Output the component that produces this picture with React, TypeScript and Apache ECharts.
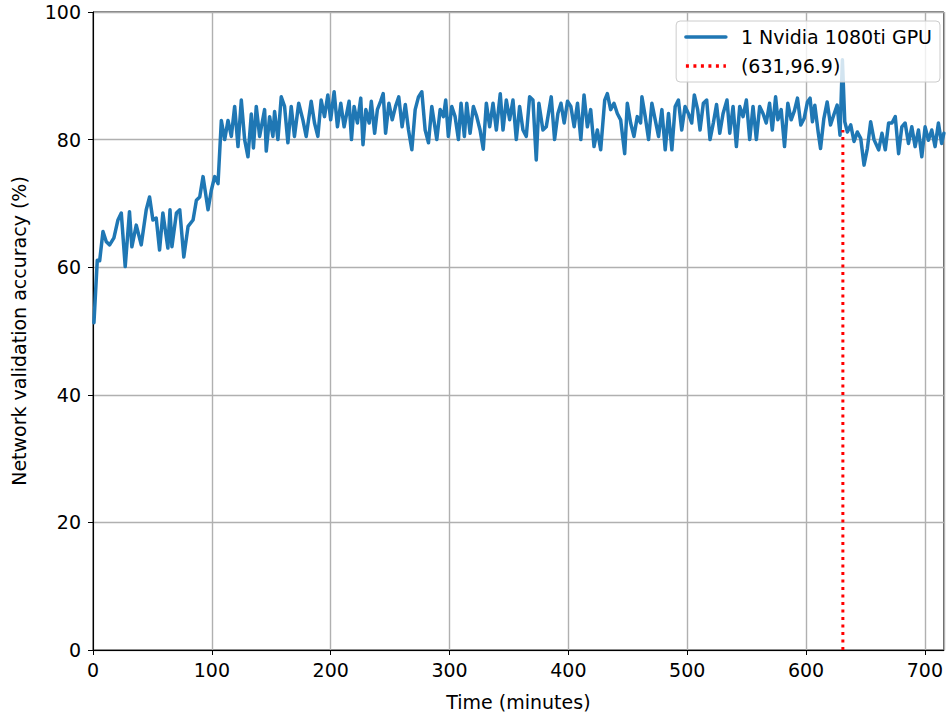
import React, { useEffect, useRef } from "react";
import * as echarts from "echarts";

const seriesName = "1 Nvidia 1080ti GPU";
const markerName = "(631,96.9)";

const times: number[] = [
  0.8, 3.6, 5.6, 8.4, 11.2, 14, 17.6, 21, 23.8, 27.1, 30.7, 32.7, 36.4, 40.6, 44.8, 47.6, 50.4, 53.2, 56, 58.8,
  63, 64.8, 66.4, 70.2, 73, 76.4, 80, 84.2, 87, 89.8, 92.6, 96.8, 99.6, 102.4, 105.2, 108, 110.8, 113.6, 116.4, 119.2,
  122, 124.8, 127.6, 130.4, 133.2, 135, 137.4, 140.2, 144.4, 145.8, 148.6, 151.4, 152.8, 155.6, 158.4, 161.2, 164, 166.8, 169.5, 173.1,
  176.6, 179.4, 183.6, 186.4, 189.2, 192, 194.8, 197.6, 200, 202.9, 205.7, 208.5, 211.3, 215.5, 217.5, 219.7, 222.5, 225.3, 227.2, 229.6,
  232.4, 234.2, 237, 239.3, 242, 244.2, 246.2, 249, 251.8, 254.6, 257.3, 260.1, 262.8, 265.5, 268.3, 271.1, 273.9, 276.7, 279.5, 282.3,
  285.1, 289.3, 292.1, 294.9, 296.8, 299, 301.9, 304.7, 307.5, 309.7, 312.5, 314.5, 317.3, 320.1, 322.9, 325.7, 328.4, 331, 333.8, 336.6,
  339.4, 342.7, 345, 347.8, 350.6, 353.4, 356.2, 359, 361.8, 364.6, 367.4, 370.2, 373, 375.2, 378.6, 381.4, 385.6, 388.4, 391.2, 393.8,
  396.5, 399.3, 402.1, 404.9, 407.7, 410.5, 413.2, 416, 418.8, 421.6, 424.4, 427.2, 430.6, 432.8, 435.6, 438.4, 441.2, 444, 447.4, 449.6,
  452.4, 455.2, 458, 460.8, 461.9, 464.7, 467.5, 470.3, 473.1, 475.9, 478.7, 481.5, 484.3, 487.1, 489.9, 492.6, 495.4, 498.2, 501, 503.8,
  506, 508.8, 510.8, 513.6, 516.4, 519.2, 522, 524.7, 527.4, 530.2, 533.5, 535.8, 538.6, 541.4, 544.2, 547, 549.8, 552.6, 555.4, 558.2,
  561, 563.8, 566.5, 569.3, 571.6, 574.4, 576.3, 579.1, 581.9, 584.7, 587.5, 590.2, 592.8, 595.6, 598.4, 601.2, 603.4, 605.4, 607.4, 610.2,
  612.2, 615, 617.8, 620.6, 623.4, 626.2, 628.6, 630.6, 632.6, 634.8, 637.6, 640.4, 643.2, 646, 648.8, 651.6, 654.4, 657.2, 661.1, 663.9,
  666.7, 669.5, 672.3, 675.1, 677.9, 680.6, 683.4, 686.2, 689, 691.8, 694.6, 697.4, 700.2, 703, 705.8, 708.6, 711.4, 714.1, 716,
];

const accuracy: number[] = [
  51.3, 61.1, 61, 65.6, 64, 63.5, 64.6, 67.4, 68.5, 60.1, 68.7, 63.2, 66.6, 63.5, 69, 71, 67.4, 67.7, 62.7, 68.5,
  63, 69, 63.2, 68.5, 69, 61.6, 66.4, 67.4, 70.5, 71, 74.2, 69, 72.1, 74.2, 73.1, 83, 80, 83, 80.5, 85.2,
  78.9, 86.2, 80, 77.3, 84, 78.7, 85.2, 80.5, 84.7, 78.2, 83.6, 80.5, 84.4, 80, 86.7, 85.2, 79.5, 85.2, 80.5, 85.7,
  83.1, 80.5, 86, 82.6, 80.5, 86.2, 83.6, 87, 83.1, 87.5, 82, 85.7, 82, 86, 80, 85.2, 82.6, 86.5, 79.2, 84.7,
  82.6, 86, 81, 84.7, 86, 87.2, 81, 85.7, 83.1, 85.2, 86.7, 82, 85.5, 81.5, 78.4, 84.7, 86.7, 87.5, 81.5, 79.5,
  85.2, 80, 84.7, 83.6, 86.2, 80.5, 85.2, 83.6, 80, 85.7, 80.5, 85.7, 81, 85.2, 83.6, 81.5, 78.5, 85.7, 82, 85.7,
  81.5, 87.2, 81.5, 86.2, 83.1, 86.2, 80, 85.2, 81.5, 80.5, 86.7, 86.2, 76.8, 85.7, 81.5, 82, 86.7, 80, 84.1, 85.7,
  82.6, 86, 85.2, 82, 85.7, 80, 87, 82, 84.7, 78.9, 81.5, 78.4, 86.2, 87.2, 84.7, 85.7, 84.1, 83.1, 77.8, 85.7,
  82.6, 80.5, 83.6, 82.6, 86.7, 83.6, 80, 85.7, 83.1, 80.5, 84.7, 78.4, 84.1, 78.4, 85.2, 86.2, 81.5, 85.2, 84.1, 82.6,
  87, 84.7, 81.5, 85.7, 86.2, 80, 82.6, 85.5, 81, 84.1, 86.2, 81, 85.2, 78.9, 85.2, 83.6, 86.2, 80, 85.2, 80,
  85.2, 84.1, 82.6, 85.7, 81.5, 86.7, 83.1, 84.7, 78.9, 85.7, 83.1, 84.5, 86.5, 82.3, 83.3, 85.9, 86.5, 82.8, 85.4, 81.2,
  78.6, 83.3, 85.9, 82.3, 83.9, 85.4, 80.7, 92.5, 82.8, 81.2, 82.3, 79.7, 81.2, 80.2, 76, 78.6, 82.8, 80, 78.4, 81,
  78.4, 82.6, 82.6, 83.6, 77.8, 82, 82.6, 79.4, 82, 78.9, 81.5, 77.3, 82, 79.9, 81.5, 78.9, 82.6, 79.4, 81,
];

const markerTime = 631;
const markerTop = 81.5;

const xTicks = [0, 100, 200, 300, 400, 500, 600, 700];
const yTicks = [0, 20, 40, 60, 80, 100];

const FONT = "DejaVu Sans";
const FS = 19;

export default function App() {
  const ref = useRef<HTMLDivElement>(null);

  useEffect(() => {
    document.body.style.margin = "0";
    if (!ref.current) return;
    const chart = echarts.init(ref.current, undefined, { renderer: "svg" });
    const lineData = times.map((t, i) => [t, accuracy[i]]);
    const axisCommon = {
      axisLine: { show: true, lineStyle: { color: "#000", width: 1 } },
      axisTick: { show: true, inside: false, length: 5, lineStyle: { color: "#000", width: 1 } },
      splitLine: { show: true, lineStyle: { color: "#b0b0b0", width: 1.4 } },
      nameTextStyle: { fontSize: FS, fontFamily: FONT, color: "#000" },
    };
    chart.setOption({
      animation: false,
      backgroundColor: "#fff",
      textStyle: { fontFamily: FONT },
      grid: {
        left: 93,
        right: 1,
        top: 12,
        bottom: 68,
        show: true,
        borderColor: "#000",
        borderWidth: 1,
        backgroundColor: "transparent",
      },
      legend: {
        orient: "vertical",
        right: 6,
        top: 21,
        align: "left",
        backgroundColor: "rgba(255,255,255,0.8)",
        borderColor: "#cccccc",
        borderWidth: 1,
        borderRadius: 4,
        padding: [5, 8, 5, 8],
        itemWidth: 40,
        itemHeight: 14,
        itemGap: 7,
        itemStyle: { opacity: 0 },
        lineStyle: { width: 3.5 },
        textStyle: {
          fontSize: FS,
          fontFamily: FONT,
          color: "#000",
          lineHeight: 22,
          padding: [0, 0, 0, 10],
        },
        data: [seriesName, markerName],
      },
      xAxis: {
        type: "value",
        min: 0,
        max: 716,
        interval: 100,
        name: "Time (minutes)",
        nameLocation: "middle",
        nameGap: 42,
        ...axisCommon,
        axisLabel: {
          fontSize: FS,
          fontFamily: FONT,
          color: "#000",
          margin: 10,
          showMaxLabel: false,
          formatter: (v: number) => (xTicks.includes(v) ? String(v) : ""),
        },
      },
      yAxis: {
        type: "value",
        min: 0,
        max: 100,
        interval: 20,
        name: "Network validation accuracy (%)",
        nameLocation: "middle",
        nameGap: 65,
        ...axisCommon,
        axisLabel: {
          fontSize: FS,
          fontFamily: FONT,
          color: "#000",
          margin: 12,
          formatter: (v: number) => (yTicks.includes(v) ? String(v) : ""),
        },
      },
      series: [
        {
          name: seriesName,
          type: "line",
          data: lineData,
          symbol: "none",
          showSymbol: false,
          lineStyle: { color: "#1f77b4", width: 3.5, join: "round", cap: "round" },
          itemStyle: { color: "#1f77b4" },
          z: 2,
        },
        {
          name: markerName,
          type: "line",
          data: [
            [markerTime, 0],
            [markerTime, markerTop],
          ],
          symbol: "none",
          showSymbol: false,
          lineStyle: { color: "#ff0000", width: 3, type: [3, 4.5] },
          itemStyle: { color: "#ff0000" },
          z: 3,
        },
      ],
    });
    return () => chart.dispose();
  }, []);

  return (
    <div
      ref={ref}
      style={{ width: 946, height: 718, position: "absolute", left: 0, top: 0 }}
    />
  );
}
